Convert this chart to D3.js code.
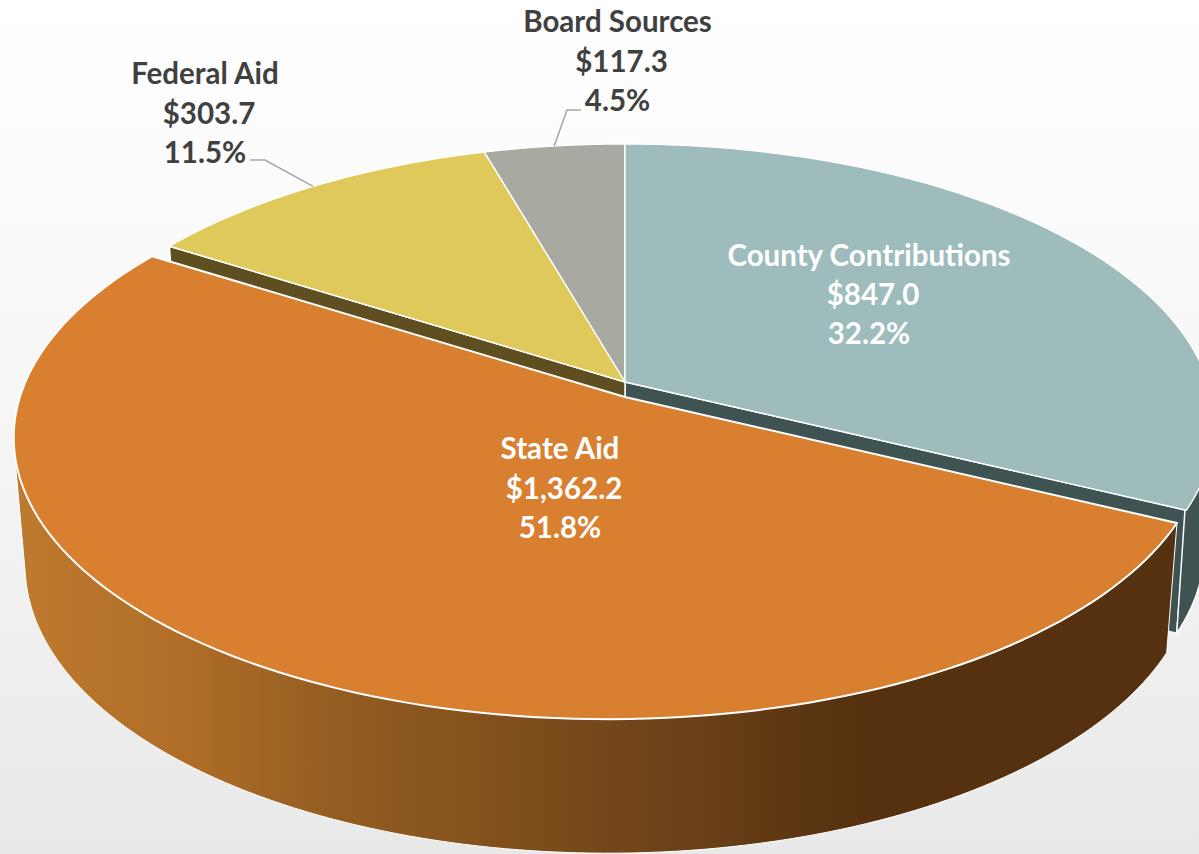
<!DOCTYPE html>
<html>
<head>
<meta charset="utf-8">
<script src="https://cdn.jsdelivr.net/npm/d3@7/dist/d3.min.js"></script>
<style>
html,body{margin:0;padding:0;background:#fff;overflow:hidden}
svg{display:block}
text{font-family:Lato,"Open Sans",sans-serif;font-weight:700}
</style>
</head>
<body>
<div id="chart"></div>
<script>
// Data
const categories = ["County Contributions", "State Aid", "Federal Aid", "Board Sources"];
const amounts = [847.0, 1362.2, 303.7, 117.3];
const sliceColors = ["#9dbcbb", "#d8802f", "#dfc95a", "#a8aaa2"];
const wallColors = ["#3f5353", "#55310f", "#5f4f20", "#55574f"];

// Layout
const W = 1199, H = 854;
const flat = {cx:625, cy:382, A:583, B:274, p:0.151, q:0};
const flatBase = {cx:625, cy:505, A:573, B:274, p:0.151, q:0};
const lifted = {cx:625, cy:397, A:590, B:277, p:0.14, q:0.025};
const liftedBase = {cx:625, cy:524, A:579, B:283, p:0.14, q:0.025};
const labelLayout = [
  {x:869, y:[266,305,344], fill:"#ffffff", dx:[0,4,0]},
  {x:560, y:[459,499,538], fill:"#ffffff", dx:[0,4,0]},
  {x:205, y:[84,124,163], fill:"#404040", dx:[0,4,0]},
  {x:617.5, y:[32,72,111], fill:"#404040", dx:[0,4,0]}
];

const project = (f, t) => {
  const s = Math.sin(t), c = Math.cos(t), w = 1 + f.p * c + f.q * s;
  return [f.cx + f.A * s / w, f.cy - f.B * c / w];
};
const arcPoints = (f, a, b) => {
  const n = 120, out = [];
  for (let i = 0; i <= n; i++) out.push(project(f, a + (b - a) * i / n));
  return out;
};
const line = d3.line();
const closed = pts => line(pts) + "Z";

const total = d3.sum(amounts);
const pie = d3.pie().sort(null)(amounts);
const fmtAmount = d3.format("$,.1f");
const fmtPct = d3.format(".1%");

const svg = d3.select("#chart").append("svg").attr("width", W).attr("height", H);
const defs = svg.append("defs");

const bg = defs.append("linearGradient").attr("id","bg").attr("x1",0).attr("x2",0).attr("y1",0).attr("y2",1);
bg.selectAll("stop").data([[0,"#ffffff"],[0.35,"#f9f9f9"],[1,"#e9e9e9"]]).join("stop")
  .attr("offset",d=>d[0]).attr("stop-color",d=>d[1]);
svg.append("rect").attr("width",W).attr("height",H).attr("fill","url(#bg)");

const wallGrad = defs.append("linearGradient").attr("id","wall").attr("gradientUnits","userSpaceOnUse")
  .attr("x1",17).attr("x2",860).attr("y1",0).attr("y2",0);
wallGrad.selectAll("stop").data([[0,"#be7a2d"],[0.2,"#b06d28"],[0.36,"#955f22"],[0.62,"#7c4c1b"],[0.82,"#683f17"],[1,"#55310f"]]).join("stop")
  .attr("offset",d=>d[0]).attr("stop-color",d=>d[1]);

const [county, state, federal, board] = pie;

// Radial faces of the resting slices, behind the pulled-out slice
const radial = t => closed([
  [flat.cx, flat.cy],
  project(flat, t),
  project(flatBase, t),
  [flatBase.cx, flatBase.cy]
]);
svg.append("path").attr("d", radial(county.endAngle)).attr("fill", wallColors[0])
  .attr("stroke","#fff").attr("stroke-width",1.5).attr("stroke-linejoin","round");
svg.append("path").attr("d", radial(federal.startAngle)).attr("fill", wallColors[2])
  .attr("stroke","#fff").attr("stroke-width",1.5).attr("stroke-linejoin","round");

// County outer wall
const countyHull = d3.polygonHull(
  arcPoints(flat, county.endAngle - 0.55, county.endAngle)
    .concat(arcPoints(flatBase, county.endAngle - 0.55, county.endAngle)));
svg.append("path").attr("d", closed(countyHull)).attr("fill", wallColors[0])
  .attr("stroke","#fff").attr("stroke-width",1.5).attr("stroke-linejoin","round");

// Top faces of the resting slices
[board, federal, county].forEach(d => {
  const pts = [[flat.cx, flat.cy]].concat(arcPoints(flat, d.startAngle, d.endAngle));
  svg.append("path").attr("d", closed(pts)).attr("fill", sliceColors[d.index])
    .attr("stroke","#fff").attr("stroke-width",1.4).attr("stroke-linejoin","round");
});

// Pulled-out State Aid slice: outer wall then top face
const leftSilhouette = state.startAngle + 2.55;
const stateHull = d3.polygonHull(
  arcPoints(lifted, state.startAngle, leftSilhouette)
    .concat(arcPoints(liftedBase, state.startAngle, leftSilhouette)));
svg.append("path").attr("d", closed(stateHull)).attr("fill","url(#wall)")
  .attr("stroke","#fff").attr("stroke-width",1).attr("stroke-linejoin","round");
svg.append("path")
  .attr("d", closed([[lifted.cx, lifted.cy]].concat(arcPoints(lifted, state.startAngle, state.endAngle))))
  .attr("fill", sliceColors[1]).attr("stroke","#fff").attr("stroke-width",2).attr("stroke-linejoin","round");

// Leader lines
const midOf = d => (d.startAngle + d.endAngle) / 2;
const leaderFederal = project(flat, midOf(federal));
const leaderBoard = project(flat, midOf(board));
svg.append("path").attr("d", line([[250,160],[265,160],leaderFederal]))
  .attr("fill","none").attr("stroke","#a6a6a6").attr("stroke-width",1.5);
svg.append("path").attr("d", line([[581,110],[567,110],leaderBoard]))
  .attr("fill","none").attr("stroke","#a6a6a6").attr("stroke-width",1.5);

// Labels
categories.forEach((name, i) => {
  const L = labelLayout[i];
  const lines = [name, fmtAmount(amounts[i]), fmtPct(amounts[i] / total)];
  const g = svg.append("g").attr("fill", L.fill).attr("text-anchor","middle").attr("font-size",29.5);
  lines.forEach((t, j) => {
    g.append("text").attr("x", L.x + L.dx[j]).attr("y", L.y[j]).text(t);
  });
});
</script>
</body>
</html>
